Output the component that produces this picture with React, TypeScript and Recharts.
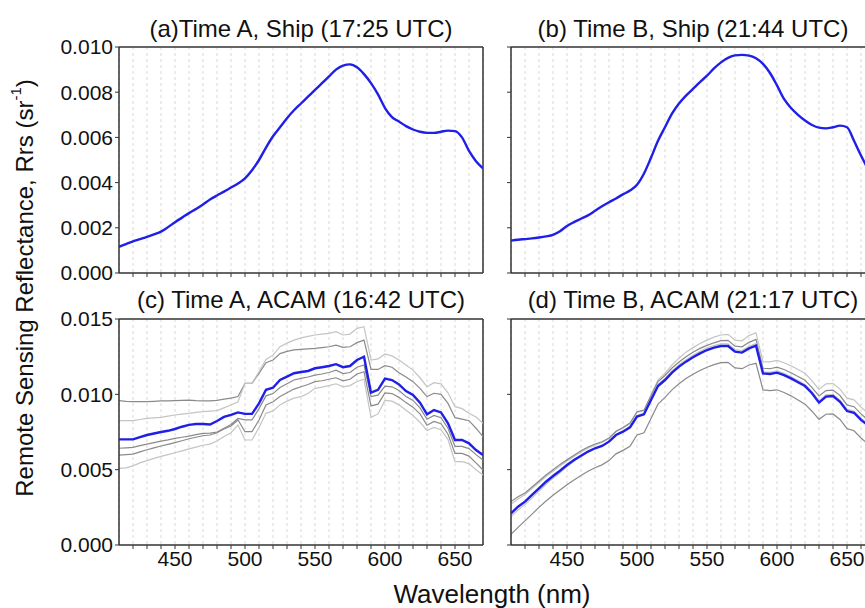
import React from 'react';
import { LineChart, Line, XAxis, YAxis, CartesianGrid, ReferenceLine } from 'recharts';

// wavelength grid (nm), ship and ACAM spectra are read at these points
const WAVELENGTHS = [
  410, 415, 420, 425, 430, 435, 440, 445, 450, 455, 460, 465, 470, 475, 480, 485, 490, 495,
  500, 505, 510, 515, 520, 525, 530, 535, 540, 545, 550, 555, 560, 565, 570, 575, 580, 585,
  590, 595, 600, 605, 610, 615, 620, 625, 630, 635, 640, 645, 650, 655, 660, 665, 670,
];
const GRID_WL = [420, 430, 440, 450, 460, 470, 480, 490, 500, 510, 520, 530, 540, 550, 560, 570, 580, 590, 600, 610, 620, 630, 640, 650, 660];
const TICKS_SHIP = [0, 0.002, 0.004, 0.006, 0.008, 0.01];
const TICKS_ACAM = [0, 0.005, 0.01, 0.015];

// (a) ship, time A
const SHIP_A = [
  0.00116, 0.00128, 0.0014, 0.0015, 0.0016, 0.00171, 0.00183, 0.00203, 0.00225, 0.00245, 0.00265, 0.00283, 0.00303, 0.00325, 0.00343, 0.0036, 0.00378, 0.00396,
  0.00419, 0.00455, 0.005, 0.00555, 0.00605, 0.00645, 0.00685, 0.0072, 0.0075, 0.0078, 0.0081, 0.0084, 0.0087, 0.009, 0.00918, 0.00923, 0.0091, 0.0088,
  0.0084, 0.0079, 0.0073, 0.0069, 0.0067, 0.0065, 0.00635, 0.00625, 0.0062, 0.0062, 0.00625, 0.0063, 0.00628, 0.006, 0.0054, 0.00495, 0.00463,
];
// (b) ship, time B
const SHIP_B = [
  0.00143, 0.00147, 0.0015, 0.00153, 0.00157, 0.00162, 0.00169, 0.00185, 0.00208, 0.00225, 0.0024, 0.00255, 0.00275, 0.00295, 0.00313, 0.0033, 0.00348, 0.00365,
  0.0039, 0.0044, 0.0051, 0.00585, 0.00645, 0.00705, 0.0075, 0.00785, 0.00815, 0.00845, 0.00873, 0.00905, 0.00932, 0.00952, 0.00963, 0.00965, 0.00962, 0.0095,
  0.00925, 0.00885, 0.0083, 0.0077, 0.0073, 0.007, 0.00675, 0.00655, 0.00643, 0.0064, 0.00645, 0.00652, 0.00645, 0.00585, 0.0052, 0.0046, 0.0041,
];

// (c) ACAM, time A
const ACAM_A_MEAN = [
  0.00701, 0.00701, 0.00701, 0.00716, 0.0073, 0.0074, 0.0075, 0.00758, 0.0077, 0.00785, 0.00797, 0.00803, 0.00803, 0.008, 0.00823, 0.0085, 0.00863, 0.0088,
  0.0087, 0.0087, 0.0094, 0.0103, 0.01044, 0.01095, 0.01117, 0.0114, 0.01148, 0.01155, 0.01173, 0.0118, 0.01188, 0.012, 0.0118, 0.01188, 0.01228, 0.0125,
  0.01011, 0.0103, 0.01104, 0.01095, 0.01066, 0.01022, 0.00996, 0.00945, 0.00867, 0.00896, 0.0088, 0.00808, 0.00697, 0.00697, 0.00675, 0.0063, 0.00597,
];
const ACAM_A_1 = [
  0.00958, 0.00953, 0.00951, 0.00951, 0.00951, 0.00953, 0.00956, 0.00957, 0.00958, 0.0096, 0.00962, 0.00958, 0.00956, 0.00956, 0.0096, 0.00968, 0.00975, 0.00985,
  0.01073, 0.01073, 0.01139, 0.0121, 0.01228, 0.0127, 0.01285, 0.01295, 0.01299, 0.01302, 0.01305, 0.0131, 0.01316, 0.01327, 0.01312, 0.01316, 0.01343, 0.0136,
  0.01165, 0.01165, 0.0119, 0.0118, 0.01144, 0.01115, 0.01084, 0.0104, 0.00985, 0.01007, 0.01, 0.0094, 0.00845, 0.00835, 0.00825, 0.00775, 0.00719,
];
const ACAM_A_2 = [
  0.00825, 0.00825, 0.00825, 0.00833, 0.00841, 0.00844, 0.00847, 0.00855, 0.00863, 0.00868, 0.00874, 0.0088, 0.00885, 0.00888, 0.00892, 0.0091, 0.00929, 0.00951,
  0.01073, 0.01073, 0.0115, 0.01232, 0.0126, 0.01316, 0.0134, 0.0136, 0.01375, 0.01385, 0.01394, 0.014, 0.01405, 0.01416, 0.01394, 0.014, 0.01438, 0.01449,
  0.01228, 0.01235, 0.01268, 0.01255, 0.01228, 0.01195, 0.01161, 0.0111, 0.01051, 0.01077, 0.0107, 0.0101, 0.00918, 0.00905, 0.00874, 0.0085, 0.00808,
];
const ACAM_A_3 = [
  0.00642, 0.00645, 0.00648, 0.0066, 0.0067, 0.0068, 0.0069, 0.00698, 0.00708, 0.00715, 0.00723, 0.00733, 0.00741, 0.00742, 0.0075, 0.00775, 0.008, 0.0084,
  0.0083, 0.0083, 0.00905, 0.0099, 0.01005, 0.01045, 0.0107, 0.01095, 0.01106, 0.01115, 0.01128, 0.01135, 0.01145, 0.0116, 0.01138, 0.01145, 0.0118, 0.01195,
  0.00985, 0.00995, 0.01055, 0.0105, 0.01025, 0.00985, 0.0096, 0.0091, 0.00835, 0.0086, 0.00845, 0.00775, 0.00655, 0.00655, 0.0064, 0.006, 0.00564,
];
const ACAM_A_4 = [
  0.00597, 0.006, 0.00603, 0.00618, 0.00632, 0.00645, 0.00657, 0.00668, 0.0068, 0.00692, 0.00705, 0.00715, 0.00725, 0.0073, 0.00745, 0.0077, 0.0079, 0.0083,
  0.00752, 0.00752, 0.0083, 0.00929, 0.00951, 0.00985, 0.0101, 0.01035, 0.0105, 0.01065, 0.01084, 0.0109, 0.011, 0.0111, 0.0109, 0.011, 0.01135, 0.0115,
  0.00923, 0.00935, 0.0101, 0.01005, 0.0098, 0.00945, 0.00915, 0.0087, 0.00795, 0.0082, 0.00805, 0.00735, 0.00608, 0.00608, 0.0059, 0.00545, 0.00498,
];
const ACAM_A_5 = [
  0.00509, 0.00512, 0.00525, 0.00545, 0.0056, 0.00575, 0.00588, 0.006, 0.00612, 0.00625, 0.00638, 0.0065, 0.00662, 0.0067, 0.0069, 0.0072, 0.00745, 0.00796,
  0.00697, 0.00697, 0.0078, 0.00874, 0.0089, 0.0093, 0.00955, 0.00975, 0.00985, 0.01005, 0.0104, 0.01048, 0.01058, 0.0107, 0.0105, 0.01058, 0.01085, 0.011,
  0.00847, 0.0087, 0.0096, 0.00955, 0.0093, 0.00895, 0.0086, 0.00815, 0.0076, 0.0078, 0.00765, 0.007, 0.00553, 0.00553, 0.0054, 0.005, 0.00465,
];

// (d) ACAM, time B
const ACAM_B_MEAN = [
  0.0021, 0.00254, 0.00288, 0.00332, 0.00376, 0.0042, 0.00458, 0.00493, 0.00531, 0.00564, 0.00593, 0.0062, 0.00642, 0.00657, 0.00686, 0.0073, 0.00752, 0.00781,
  0.00852, 0.00867, 0.00962, 0.01055, 0.01095, 0.01144, 0.01184, 0.01217, 0.01246, 0.01272, 0.01294, 0.0131, 0.01321, 0.01321, 0.01283, 0.01277, 0.01305, 0.01323,
  0.01139, 0.01135, 0.01144, 0.01128, 0.01106, 0.0108, 0.01055, 0.01007, 0.00945, 0.00985, 0.00989, 0.00951, 0.00889, 0.00878, 0.0083, 0.00795, 0.00735,
];
const ACAM_B_1 = [
  0.0027, 0.00305, 0.00335, 0.00375, 0.00415, 0.00455, 0.0049, 0.00525, 0.00557, 0.00588, 0.00618, 0.00643, 0.00663, 0.0068, 0.00706, 0.00752, 0.00776, 0.00806,
  0.0088, 0.00892, 0.00995, 0.01095, 0.0114, 0.01195, 0.0124, 0.0128, 0.0131, 0.01338, 0.0136, 0.0138, 0.01394, 0.01398, 0.0136, 0.01355, 0.0139, 0.01409,
  0.01217, 0.01215, 0.01225, 0.0121, 0.0119, 0.01165, 0.0114, 0.0109, 0.01033, 0.0107, 0.01072, 0.01035, 0.00975, 0.00963, 0.00915, 0.00875, 0.00815,
];
const ACAM_B_2 = [
  0.00288, 0.0032, 0.00345, 0.00385, 0.00425, 0.00465, 0.005, 0.00535, 0.00565, 0.00595, 0.00625, 0.0065, 0.0067, 0.00685, 0.0071, 0.00755, 0.0078, 0.0081,
  0.00885, 0.00895, 0.0099, 0.01085, 0.01125, 0.01175, 0.01215, 0.0125, 0.0128, 0.01305, 0.01325, 0.01342, 0.01356, 0.01358, 0.0132, 0.01315, 0.01345, 0.01365,
  0.01173, 0.0117, 0.0118, 0.01165, 0.01143, 0.01118, 0.01093, 0.01045, 0.00989, 0.01025, 0.01028, 0.00992, 0.0093, 0.00918, 0.0087, 0.0083, 0.0077,
];
const ACAM_B_3 = [
  0.00188, 0.00232, 0.00268, 0.00312, 0.00358, 0.00403, 0.00443, 0.0048, 0.0052, 0.00555, 0.00587, 0.00616, 0.0064, 0.00657, 0.00688, 0.00733, 0.00757, 0.00788,
  0.0086, 0.00876, 0.00972, 0.01066, 0.01106, 0.01156, 0.01196, 0.0123, 0.0126, 0.01286, 0.01308, 0.01324, 0.01335, 0.01335, 0.01297, 0.01291, 0.01319, 0.01337,
  0.0115, 0.01146, 0.01155, 0.01139, 0.01117, 0.01091, 0.01066, 0.01018, 0.00956, 0.00996, 0.01, 0.00962, 0.009, 0.00889, 0.00841, 0.008, 0.0074,
];
const ACAM_B_4 = [
  0.0007, 0.00117, 0.0016, 0.00205, 0.0025, 0.00292, 0.0033, 0.00365, 0.004, 0.00432, 0.00462, 0.0049, 0.00513, 0.00532, 0.0056, 0.00605, 0.00628, 0.00655,
  0.0073, 0.00745, 0.0084, 0.00935, 0.0098, 0.0103, 0.0107, 0.01105, 0.01133, 0.01158, 0.0118, 0.01197, 0.0121, 0.01212, 0.01175, 0.0117, 0.01195, 0.01206,
  0.01029, 0.01025, 0.0103, 0.01012, 0.0099, 0.00963, 0.00935, 0.00888, 0.00834, 0.00868, 0.0087, 0.00833, 0.00772, 0.00758, 0.0071, 0.0067, 0.0061,
];

const FONT = '"Liberation Sans", Arial, Helvetica, sans-serif';
const BLUE = '#1f1fe8';
const MID_GRAY = '#8a8a8a';
const LIGHT_GRAY = '#c4c4c4';
const FRAME = '#333';

const PLOT_W = 364;
const PLOT_H = 226;
const Y_AXIS_W = 70;
const TOP_PAD = 20;

type Series = { key: string; values: number[]; color: string; width: number };

const buildRows = (series: Series[]) =>
  WAVELENGTHS.map((w, i) => {
    const row: Record<string, number> = { w };
    series.forEach((s) => {
      row[s.key] = s.values[i];
    });
    return row;
  });

interface PanelProps {
  left: number;
  top: number;
  yMax: number;
  yTicks: number[];
  showYLabels: boolean;
  showXLabels: boolean;
  series: Series[];
  smooth: boolean;
}

const Panel: React.FC<PanelProps> = ({ left, top, yMax, yTicks, showYLabels, showXLabels, series, smooth }) => {
  const rows = buildRows(series);
  return (
    <div style={{ position: 'absolute', left: left - Y_AXIS_W, top: top - TOP_PAD }}>
      <LineChart
        width={PLOT_W + Y_AXIS_W + 10}
        height={PLOT_H + TOP_PAD + 40}
        data={rows}
        margin={{ top: TOP_PAD, right: 10, left: 0, bottom: 0 }}
      >
        <CartesianGrid horizontal={false} stroke="#cfcfcf" strokeDasharray="3 3" strokeWidth={0.8} />
        <XAxis
          dataKey="w"
          type="number"
          domain={[410, 670]}
          ticks={GRID_WL}
          interval={0}
          allowDataOverflow
          height={40}
          tickSize={4}
          tickLine={{ stroke: FRAME }}
          axisLine={{ stroke: FRAME, strokeWidth: 1.5 }}
          tick={{ fontSize: 21, fill: '#111', fontFamily: FONT }}
          tickFormatter={(v: number) => (showXLabels && v % 50 === 0 ? String(v) : '')}
        />
        <YAxis
          type="number"
          domain={[0, yMax]}
          ticks={yTicks}
          interval={0}
          width={Y_AXIS_W}
          tickSize={4}
          tickLine={{ stroke: FRAME }}
          axisLine={{ stroke: FRAME, strokeWidth: 1.5 }}
          tick={{ fontSize: 21, fill: '#111', fontFamily: FONT }}
          tickFormatter={(v: number) => (showYLabels ? v.toFixed(3) : '')}
        />
        <ReferenceLine x={670} stroke={FRAME} strokeWidth={1.5} />
        <ReferenceLine y={yMax} stroke={FRAME} strokeWidth={1.5} />
        {series.map((s) => (
          <Line
            key={s.key}
            dataKey={s.key}
            type={smooth ? 'monotone' : 'linear'}
            stroke={s.color}
            strokeWidth={s.width}
            dot={false}
            activeDot={false}
            isAnimationActive={false}
          />
        ))}
      </LineChart>
    </div>
  );
};

const acamA: Series[] = [
  { key: 'g1', values: ACAM_A_1, color: MID_GRAY, width: 1.2 },
  { key: 'g2', values: ACAM_A_2, color: LIGHT_GRAY, width: 1.2 },
  { key: 'g3', values: ACAM_A_3, color: MID_GRAY, width: 1.2 },
  { key: 'g4', values: ACAM_A_4, color: MID_GRAY, width: 1.2 },
  { key: 'g5', values: ACAM_A_5, color: LIGHT_GRAY, width: 1.2 },
  { key: 'mean', values: ACAM_A_MEAN, color: BLUE, width: 2.4 },
];
const acamB: Series[] = [
  { key: 'g1', values: ACAM_B_1, color: LIGHT_GRAY, width: 1.2 },
  { key: 'g2', values: ACAM_B_2, color: MID_GRAY, width: 1.2 },
  { key: 'g3', values: ACAM_B_3, color: LIGHT_GRAY, width: 1.2 },
  { key: 'g4', values: ACAM_B_4, color: MID_GRAY, width: 1.2 },
  { key: 'mean', values: ACAM_B_MEAN, color: BLUE, width: 2.4 },
];

const App: React.FC = () => {
  return (
    <div style={{ position: 'absolute', left: 0, top: 0, width: 865, height: 608, overflow: 'hidden', background: '#fff', fontFamily: FONT }}>
      <Panel left={119} top={47} yMax={0.01} yTicks={TICKS_SHIP} showYLabels showXLabels={false} smooth
        series={[{ key: 'ship', values: SHIP_A, color: BLUE, width: 2.4 }]} />
      <Panel left={511} top={47} yMax={0.01} yTicks={TICKS_SHIP} showYLabels={false} showXLabels={false} smooth
        series={[{ key: 'ship', values: SHIP_B, color: BLUE, width: 2.4 }]} />
      <Panel left={119} top={319} yMax={0.015} yTicks={TICKS_ACAM} showYLabels showXLabels smooth={false} series={acamA} />
      <Panel left={511} top={319} yMax={0.015} yTicks={TICKS_ACAM} showYLabels={false} showXLabels smooth={false} series={acamB} />
      <svg width={865} height={608} style={{ position: 'absolute', left: 0, top: 0, pointerEvents: 'none' }}>
        <g fontFamily={FONT} fill="#111" textAnchor="middle" dominantBaseline="central">
          <text x={301} y={28} fontSize={24}>(a)Time A, Ship (17:25 UTC)</text>
          <text x={693} y={28} fontSize={24}>(b) Time B, Ship (21:44 UTC)</text>
          <text x={301} y={299} fontSize={24}>(c) Time A, ACAM (16:42 UTC)</text>
          <text x={693} y={299} fontSize={24}>(d) Time B, ACAM (21:17 UTC)</text>
          <text x={492} y={594} fontSize={26}>Wavelength (nm)</text>
          <text transform="translate(24,288) rotate(-90)" fontSize={24}>
            Remote Sensing Reflectance, Rrs (sr<tspan fontSize={15} dy={-9}>-1</tspan><tspan dy={9}>)</tspan>
          </text>
        </g>
      </svg>
    </div>
  );
};

export default App;
